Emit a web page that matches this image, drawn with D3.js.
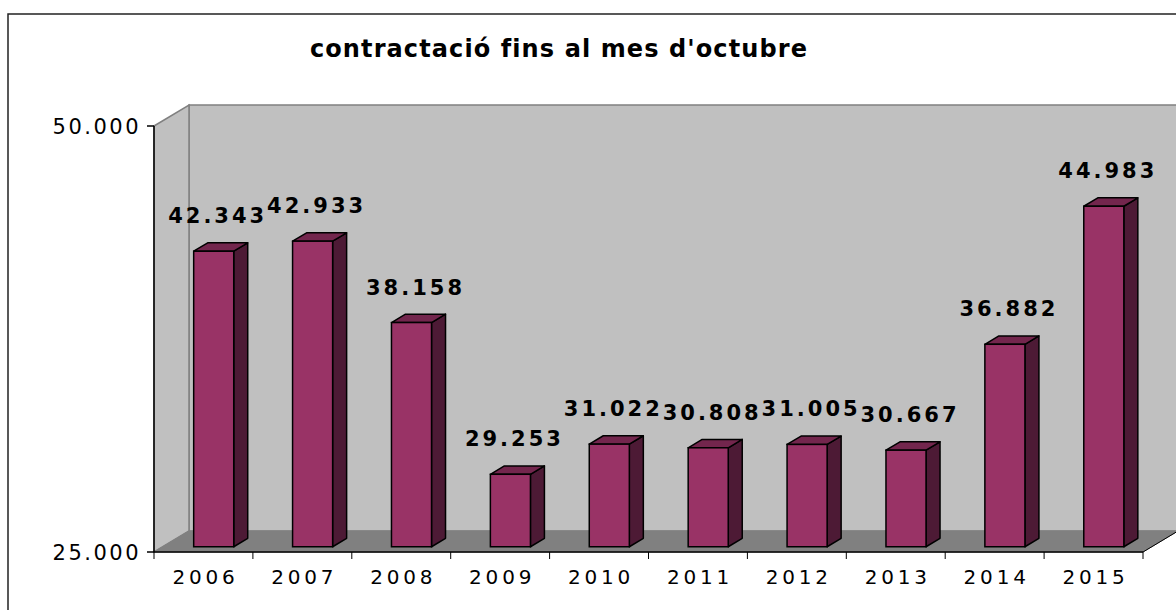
<!DOCTYPE html>
<html>
<head>
<meta charset="utf-8">
<script src="https://cdn.jsdelivr.net/npm/d3@7"></script>
<style>
  body { margin: 0; background: #fff; }
  svg { display: block; font-family: "DejaVu Sans", Verdana, sans-serif; }
</style>
</head>
<body>
<svg id="chart"></svg>
<script>
// dades
const years = ['2006', '2007', '2008', '2009', '2010', '2011', '2012', '2013', '2014', '2015'];
const values = [42343, 42933, 38158, 29253, 31022, 30808, 31005, 30667, 36882, 44983];
const yTicks = [25000, 50000];
const title = "contractació fins al mes d'octubre";

const W = 1176, H = 610;
const svg = d3.select('#chart').attr('width', W).attr('height', H);

// profunditat 3D
const depthX = 35, depthY = -21;
const barFront = 0.25, barBack = 0.65;

const fmt = d => d3.format(',')(d).replace(/,/g, '.');

const x = d3.scaleBand()
    .domain(years)
    .range([154, 1143])
    .paddingInner(0).paddingOuter(0);

const y = d3.scaleLinear()
    .domain([25000, 50000])
    .range([552, 126]);

// marc exterior
svg.append('rect')
    .attr('x', 8).attr('y', 14)
    .attr('width', W + 20).attr('height', H + 20)
    .attr('fill', 'none').attr('stroke', '#222').attr('stroke-width', 1.5);

// títol
svg.append('text')
    .attr('x', 559).attr('y', 57)
    .attr('text-anchor', 'middle')
    .style('font-size', '24px')
    .style('font-weight', 'bold')
    .style('letter-spacing', '1.1px')
    .text(title);

const x0 = x.range()[0], x1 = x.range()[1];
const yTop = y(50000), yBot = y(25000);

// paret del fons
svg.append('rect')
    .attr('x', x0 + depthX).attr('y', yTop + depthY)
    .attr('width', W).attr('height', yBot - yTop)
    .attr('fill', '#c0c0c0').attr('stroke', '#808080').attr('stroke-width', 1.5);

// paret esquerra
svg.append('polygon')
    .attr('points', [[x0, yTop], [x0 + depthX, yTop + depthY], [x0 + depthX, yBot + depthY], [x0, yBot]].join(' '))
    .attr('fill', '#c0c0c0').attr('stroke', '#808080').attr('stroke-width', 1.5);

// terra
svg.append('polygon')
    .attr('points', [[x0, yBot], [x0 + depthX, yBot + depthY], [x1 + depthX, yBot + depthY], [x1, yBot]].join(' '))
    .attr('fill', '#808080').attr('stroke', '#808080').attr('stroke-width', 1);

svg.append('line')
    .attr('x1', x1).attr('y1', yBot)
    .attr('x2', x1 + depthX).attr('y2', yBot + depthY)
    .attr('stroke', '#000').attr('stroke-width', 1);

// eixos
const yaxis = svg.append('g');
yaxis.append('line')
    .attr('x1', x0).attr('y1', yTop).attr('x2', x0).attr('y2', yBot)
    .attr('stroke', '#000').attr('stroke-width', 1.5);
yaxis.selectAll('.tick')
    .data(yTicks)
    .join('g')
    .each(function(d) {
        const g = d3.select(this);
        g.append('line')
            .attr('x1', x0 - 7).attr('x2', x0)
            .attr('y1', y(d)).attr('y2', y(d))
            .attr('stroke', '#000').attr('stroke-width', 1.5);
        g.append('text')
            .attr('x', 141).attr('y', y(d))
            .attr('dy', '0.36em')
            .attr('text-anchor', 'end')
            .style('font-size', '21px')
            .style('letter-spacing', '2.5px')
            .text(fmt(d));
    });

const xaxis = svg.append('g');
xaxis.append('line')
    .attr('x1', x0).attr('y1', yBot).attr('x2', x1).attr('y2', yBot)
    .attr('stroke', '#000').attr('stroke-width', 1.5);
xaxis.selectAll('.xtick')
    .data(years.concat(['end']))
    .join('line')
    .attr('x1', (d, i) => x0 + i * x.bandwidth())
    .attr('x2', (d, i) => x0 + i * x.bandwidth())
    .attr('y1', yBot).attr('y2', yBot + 7)
    .attr('stroke', '#000').attr('stroke-width', 1);
xaxis.selectAll('.xlabel')
    .data(years)
    .join('text')
    .attr('x', d => x(d) + x.bandwidth() / 2 + 2)
    .attr('y', 584)
    .attr('text-anchor', 'middle')
    .style('font-size', '20px')
    .style('letter-spacing', '3.8px')
    .text(d => d);

// barres
const bw = x.bandwidth() * 0.405;
const fx = depthX * barFront, fy = depthY * barFront;
const sx = depthX * (barBack - barFront), sy = depthY * (barBack - barFront);

const bars = svg.append('g')
    .selectAll('g')
    .data(years.map((yr, i) => ({ year: yr, value: values[i] })))
    .join('g');

bars.each(function(d) {
    const g = d3.select(this);
    const left = x(d.year) + (x.bandwidth() - bw) / 2 + 1.5 + fx;
    const right = left + bw;
    const top = y(d.value) + fy;
    const bottom = y(25000) + fy;
    // lateral
    g.append('polygon')
        .attr('points', [[right, top], [right + sx, top + sy], [right + sx, bottom + sy], [right, bottom]].join(' '))
        .attr('fill', '#4d1a35').attr('stroke', '#000').attr('stroke-width', 1.5).attr('stroke-linejoin', 'round');
    // superior
    g.append('polygon')
        .attr('points', [[left, top], [left + sx, top + sy], [right + sx, top + sy], [right, top]].join(' '))
        .attr('fill', '#73264d').attr('stroke', '#000').attr('stroke-width', 1.5).attr('stroke-linejoin', 'round');
    // frontal
    g.append('rect')
        .attr('x', left).attr('y', top)
        .attr('width', bw).attr('height', bottom - top)
        .attr('fill', '#993366').attr('stroke', '#000').attr('stroke-width', 1.5);
    // etiqueta
    g.append('text')
        .attr('x', left + (bw + sx) / 2 - 3)
        .attr('y', top - 28)
        .attr('text-anchor', 'middle')
        .style('font-size', '21px')
        .style('font-weight', 'bold')
        .style('letter-spacing', '3px')
        .text(fmt(d.value));
});
</script>
</body>
</html>
